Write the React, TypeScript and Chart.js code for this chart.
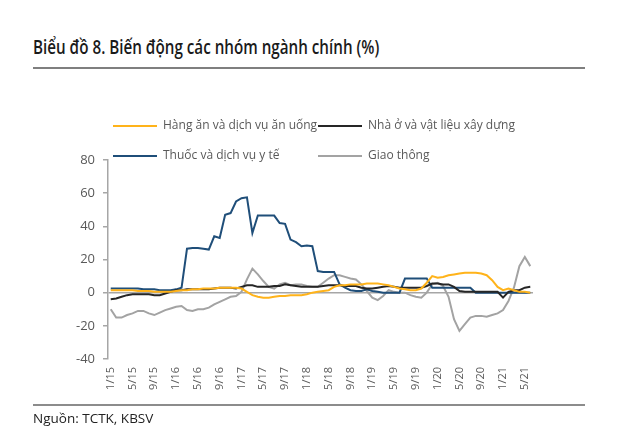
import React, { useEffect, useRef } from "react";
import { Chart, registerables } from "chart.js";

Chart.register(...registerables);

// Monthly categories 1/15 .. 6/21
const years = [15, 16, 17, 18, 19, 20, 21];
const categories: string[] = [];
for (const y of years) {
  for (let m = 1; m <= 12; m++) {
    if (y === 21 && m > 6) break;
    categories.push(`${m}/${y}`);
  }
}

const seriesNames = [
  "Hàng ăn và dịch vụ ăn uống",
  "Nhà ở và vật liệu xây dựng",
  "Thuốc và dịch vụ y tế",
  "Giao thông",
];
const seriesColors = ["#FFB31A", "#262626", "#1F4E79", "#A3A3A3"];

const foodValues = [
  1.5, 1.5, 1.5, 1.5, 1.5, 1, 1, 1, 0.5, 0.5, 0.5, 0.5,
  1, 1.5, 1.5, 2, 2, 2.5, 2.5, 2.5, 3, 3, 3, 3,
  2.5, 0.5, -1.5, -2.5, -3, -3, -2.5, -2, -2, -1.5, -1.5, -1.5,
  -1, 0, 0.5, 1, 1.5, 3.5, 4.5, 4.5, 5, 5, 5, 5.5,
  5.5, 5.5, 5, 4.5, 3.5, 2.5, 2, 1.5, 1.5, 2.5, 6, 10,
  9, 9.5, 10.5, 11, 11.5, 12, 12, 12, 11.5, 10.5, 7.5, 3.5,
  1.5, 2.5, 1.5, 0.5, 0.5, 0,
];

const housingValues = [
  -4, -3.5, -2.5, -1.5, -1, -1, -1, -1, -1.5, -1.5, -0.5, 0.5,
  1.5, 1.5, 2, 2, 2, 2, 2, 2.5, 3, 3, 3, 2.5,
  3.5, 4.5, 4.5, 3.5, 3.5, 3.5, 4, 4, 5, 4.5, 4, 3.5,
  3.5, 3.5, 3.5, 4, 4.5, 4.5, 4.5, 4, 4, 4, 3, 2.5,
  2.5, 3, 3.5, 4, 3.5, 3, 3, 3, 3, 3, 4, 5.5,
  5.5, 5, 5, 3.5, 1, 0.5, 0.5, 0.5, 0.5, 0.5, 0.5, 0.5,
  -3, 0.5, 1.5, 1.5, 3, 3.5,
];

const healthValues = [
  2.5, 2.5, 2.5, 2.5, 2.5, 2.5, 2, 2, 2, 1.5, 1.5, 1.5,
  2, 3, 26.5, 27, 27, 26.5, 26, 34, 33, 47, 48, 55,
  57, 57.5, 36, 46.5, 46.5, 46.5, 46.5, 42, 41.5, 32, 30.5, 28,
  28.5, 28, 13, 12.5, 12.5, 12.5, 5, 3, 1.5, 1, 1, 2,
  1, 0.5, 0, 0, 0, 0, 8.5, 8.5, 8.5, 8.5, 8.5, 3,
  3, 3, 3, 3, 3, 3, 3, 0, 0, 0, 0, 0,
  0, 0, 0, 0, 0, 0,
];

const transportValues = [
  -10, -15, -15, -13.5, -12.5, -11, -11, -12.5, -13.5, -12, -10.5, -9.5,
  -8.5, -8, -10.5, -11, -10, -10, -9, -7, -5.5, -4, -2.5, -2,
  0.5, 8, 14.5, 11, 7, 3.5, 2.5, 5, 6, 4.5, 5, 5,
  4, 3.5, 3.5, 6, 8.5, 10.5, 10.5, 9.5, 8.5, 8, 5, 1,
  -3, -4.5, -2, 1.5, 0.5, 0, 0, -1.5, -2.5, -3, 0, 5,
  6, 4, -2.5, -16, -23, -19, -15, -14, -14, -14.5, -13.5, -12.5,
  -10.5, -5, 3, 16, 21.5, 16,
];

const yTicks = [-40, -20, 0, 20, 40, 60, 80];

const allSeries = [foodValues, housingValues, healthValues, transportValues];

const FONT = "'Open Sans', 'Noto Sans', sans-serif";

export default function App() {
  const canvasRef = useRef<HTMLCanvasElement | null>(null);

  useEffect(() => {
    if (!canvasRef.current) return;
    const chart = new Chart(canvasRef.current, {
      type: "line",
      data: {
        labels: categories,
        datasets: allSeries.map((vals, i) => ({
          label: seriesNames[i],
          data: vals,
          borderColor: seriesColors[i],
          backgroundColor: seriesColors[i],
          borderWidth: 2,
          pointRadius: 0,
          tension: 0,
          fill: false,
        })),
      },
      options: {
        animation: false,
        responsive: false,
        maintainAspectRatio: false,
        layout: { padding: { left: 40, right: 97, top: 160, bottom: 32 } },
        plugins: { legend: { display: false }, tooltip: { enabled: false } },
        scales: {
          x: {
            type: "category",
            offset: true,
            grid: { display: false, drawTicks: false },
            border: { display: false },
            afterFit: (s: any) => {
              s.height = 45;
            },
            ticks: {
              autoSkip: false,
              maxRotation: 90,
              minRotation: 90,
              padding: 8,
              color: "#595959",
              font: { family: FONT, size: 11 },
              callback: (_v: any, idx: number) => (idx % 4 === 0 ? categories[idx] : ""),
            },
          },
          y: {
            min: yTicks[0],
            max: yTicks[yTicks.length - 1],
            afterFit: (s: any) => {
              s.width = 68;
            },
            afterBuildTicks: (s: any) => {
              s.ticks = yTicks.map((v) => ({ value: v }));
            },
            grid: {
              color: (c: any) => (c.tick && c.tick.value === 0 ? "#A6A6A6" : "rgba(0,0,0,0)"),
              lineWidth: 1.5,
              tickColor: "#A6A6A6",
              tickLength: 5,
              drawTicks: true,
            },
            border: { display: true, color: "#A6A6A6", width: 1.5 },
            ticks: {
              padding: 8,
              color: "#595959",
              font: { family: FONT, size: 13 },
            },
          },
        },
      },
    });
    return () => chart.destroy();
  }, []);

  const legendItem = (i: number, left: number, top: number, textLeft: number) => (
    <div key={i}>
      <div
        style={{
          position: "absolute",
          left,
          top,
          width: 44,
          height: 2,
          background: seriesColors[i],
        }}
      />
      <div
        style={{
          position: "absolute",
          left: textLeft,
          top: top - 9,
          fontFamily: FONT,
          fontSize: 12,
          color: "#595959",
          whiteSpace: "nowrap",
          lineHeight: "18px",
        }}
      >
        {seriesNames[i]}
      </div>
    </div>
  );

  return (
    <div
      style={{
        position: "fixed",
        left: 0,
        top: 0,
        width: 630,
        height: 436,
        background: "#fff",
        overflow: "hidden",
      }}
    >
      <div
        style={{
          position: "absolute",
          left: 33,
          top: 33,
          fontFamily: FONT,
          fontWeight: 600,
          fontSize: 19,
          color: "#1a1a1a",
          whiteSpace: "nowrap",
          lineHeight: "28px",
          transform: "scaleX(0.8)",
          transformOrigin: "left center",
        }}
      >
        Biểu đồ 8. Biến động các nhóm ngành chính (%)
      </div>
      <div style={{ position: "absolute", left: 33, top: 67, width: 552, height: 2, background: "#7f7f7f" }} />
      <canvas
        ref={canvasRef}
        width={630}
        height={436}
        style={{ position: "absolute", left: 0, top: 0, width: 630, height: 436 }}
      />
      {legendItem(0, 113, 125, 163)}
      {legendItem(1, 318, 125, 368)}
      {legendItem(2, 113, 155, 163)}
      {legendItem(3, 318, 155, 368)}
      <div style={{ position: "absolute", left: 33, top: 404, width: 552, height: 1.5, background: "#8c8c8c" }} />
      <div
        style={{
          position: "absolute",
          left: 33,
          top: 408,
          fontFamily: FONT,
          fontSize: 13.5,
          color: "#222",
          whiteSpace: "nowrap",
          lineHeight: "20px",
        }}
      >
        Nguồn: TCTK, KBSV
      </div>
    </div>
  );
}
